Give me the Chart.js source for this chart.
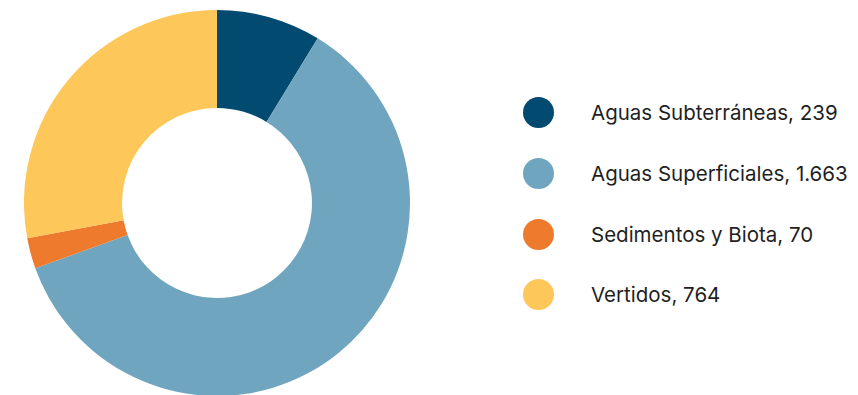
<!DOCTYPE html>
<html>
<head>
<meta charset="utf-8">
<script src="https://cdn.jsdelivr.net/npm/chart.js@4"></script>
<style>
  html, body { margin: 0; padding: 0; background: #fff; }
  #wrap { position: relative; width: 858px; height: 395px; overflow: hidden; }
  #chartBox { position: absolute; left: 24px; top: 10px; width: 386px; height: 386px; }
  #legend { position: absolute; left: 523px; top: 0; margin: 0; padding: 0; list-style: none;
            font-family: Inter, "Noto Sans", sans-serif; font-size: 20.5px; color: #1f1f1f; }
  #legend li { position: absolute; left: 0; display: flex; align-items: center; white-space: nowrap; height: 32px; }
  #legend .dot { width: 31px; height: 31px; border-radius: 50%; margin-right: 37px; flex: none; }
</style>
</head>
<body>
<div id="wrap">
  <div id="chartBox"><canvas id="chart"></canvas></div>
  <ul id="legend"></ul>
</div>
<script>
// Muestras por tipo de matriz
const categories = ['Aguas Subterráneas', 'Aguas Superficiales', 'Sedimentos y Biota', 'Vertidos'];
const values = [239, 1663, 70, 764];
const colors = ['#024A70', '#6FA5BE', '#EE7A2D', '#FDC75A'];

// Separador de miles con punto
const fmt = v => String(v).replace(/\B(?=(\d{3})+(?!\d))/g, '.');

const chart = new Chart(document.getElementById('chart'), {
  type: 'doughnut',
  data: {
    labels: categories,
    datasets: [{
      data: values,
      backgroundColor: colors,
      borderWidth: 0
    }]
  },
  options: {
    responsive: true,
    maintainAspectRatio: false,
    animation: false,
    cutout: '49.2%',
    layout: { padding: 0 },
    plugins: {
      legend: { display: false },
      tooltip: { enabled: false }
    }
  }
});

// Leyenda a la derecha
const legend = document.getElementById('legend');
const rowTops = [112.5, 173, 234, 294.5];
chart.data.labels.forEach((label, i) => {
  const li = document.createElement('li');
  li.style.top = (rowTops[i] - 16) + 'px';
  const dot = document.createElement('span');
  dot.className = 'dot';
  dot.style.background = chart.data.datasets[0].backgroundColor[i];
  const txt = document.createElement('span');
  txt.textContent = label + ', ' + fmt(chart.data.datasets[0].data[i]);
  li.appendChild(dot);
  li.appendChild(txt);
  legend.appendChild(li);
});
</script>
</body>
</html>
